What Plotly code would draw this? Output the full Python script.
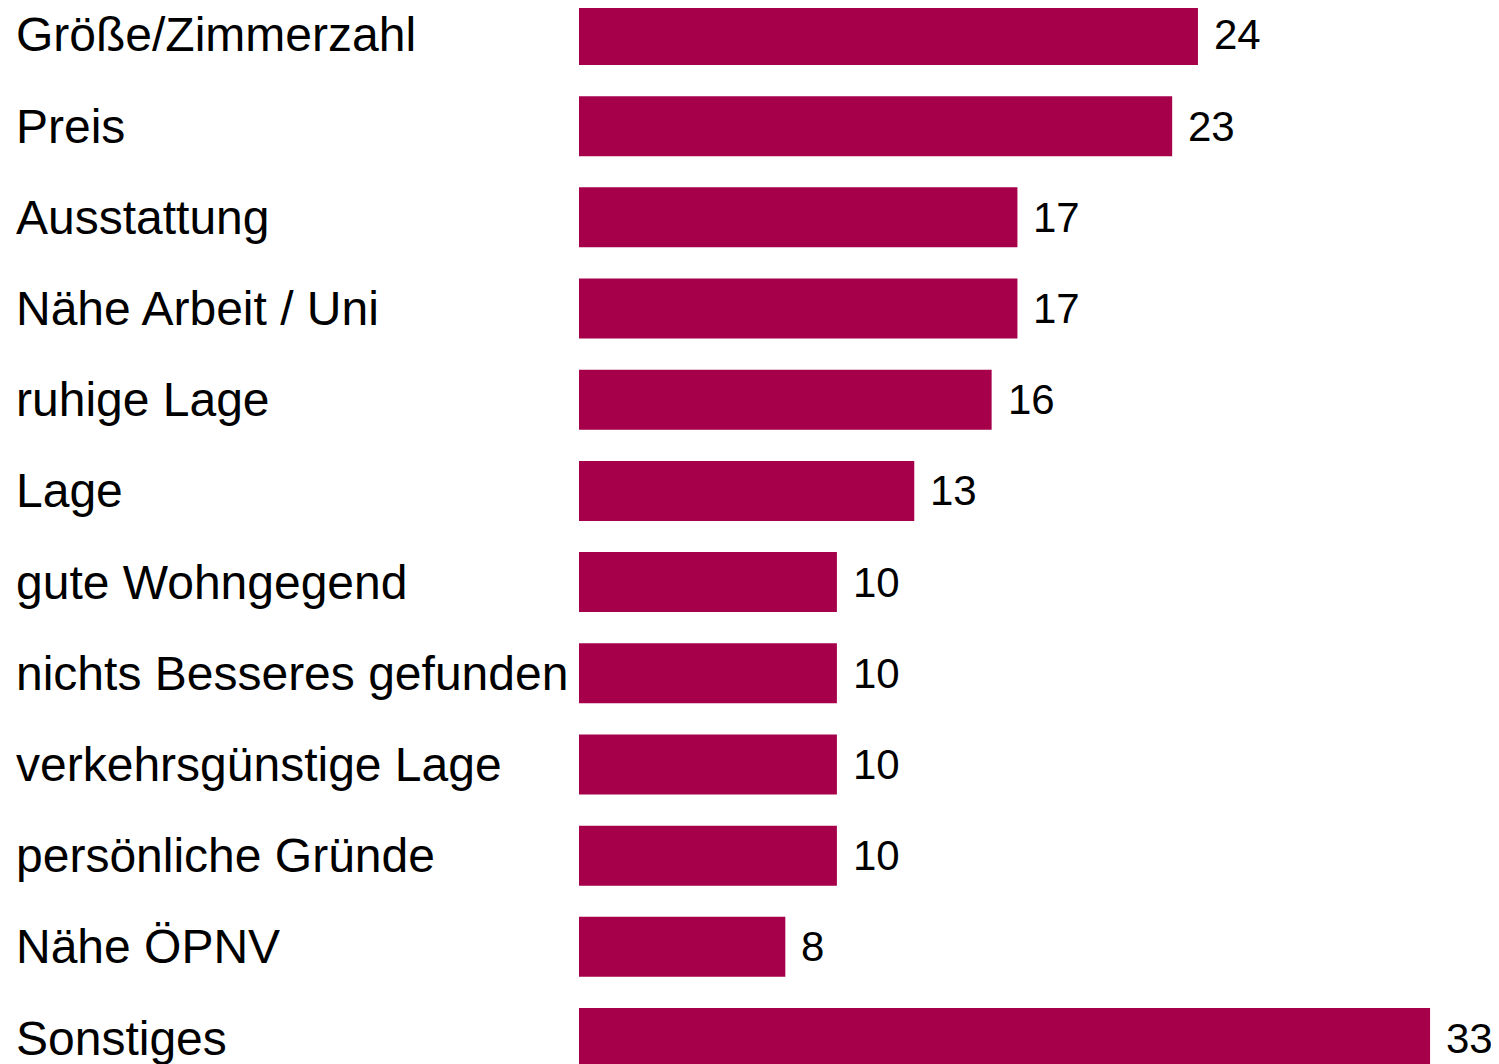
import plotly.graph_objects as go

# reasons, top to bottom, with their values
categories = ["Größe/Zimmerzahl", "Preis", "Ausstattung", "Nähe Arbeit / Uni",
              "ruhige Lage", "Lage", "gute Wohngegend", "nichts Besseres gefunden",
              "verkehrsgünstige Lage", "persönliche Gründe", "Nähe ÖPNV", "Sonstiges"]
values = [24, 23, 17, 17, 16, 13, 10, 10, 10, 10, 8, 33]

# page has an 8px body margin, so the figure is a bit smaller than the window
W, H = 1491, 1056
left = 571
bar_color = "#a6004b"
font_family = "Liberation Sans, Arial, sans-serif"

fig = go.Figure(go.Bar(
    x=values, y=categories, orientation="h",
    marker=dict(color=bar_color, line=dict(width=0)),
    width=0.658,
    hoverinfo="x+y",
))

annotations = []
for cat, val in zip(categories, values):
    # category label on the left
    annotations.append(dict(
        x=(6 - left) / (W - left), xref="paper", y=cat, yref="y",
        text=cat, showarrow=False, xanchor="left", yanchor="middle",
        font=dict(size=48, color="black", family=font_family),
    ))
    # value after the bar
    annotations.append(dict(
        x=val, xref="x", y=cat, yref="y",
        text=str(val), showarrow=False, xanchor="left", yanchor="middle",
        xshift=14, font=dict(size=42, color="black", family=font_family),
    ))

fig.update_layout(
    width=W, height=H,
    margin=dict(l=left, r=0, t=0, b=0),
    paper_bgcolor="white", plot_bgcolor="white",
    showlegend=False,
    xaxis=dict(range=[0, (W - left) / 25.79], visible=False, fixedrange=True),
    yaxis=dict(type="category", categoryorder="array", categoryarray=categories,
               range=[11.285, -0.296], visible=False, fixedrange=True),
    annotations=annotations,
)

fig.write_html("out.html")
